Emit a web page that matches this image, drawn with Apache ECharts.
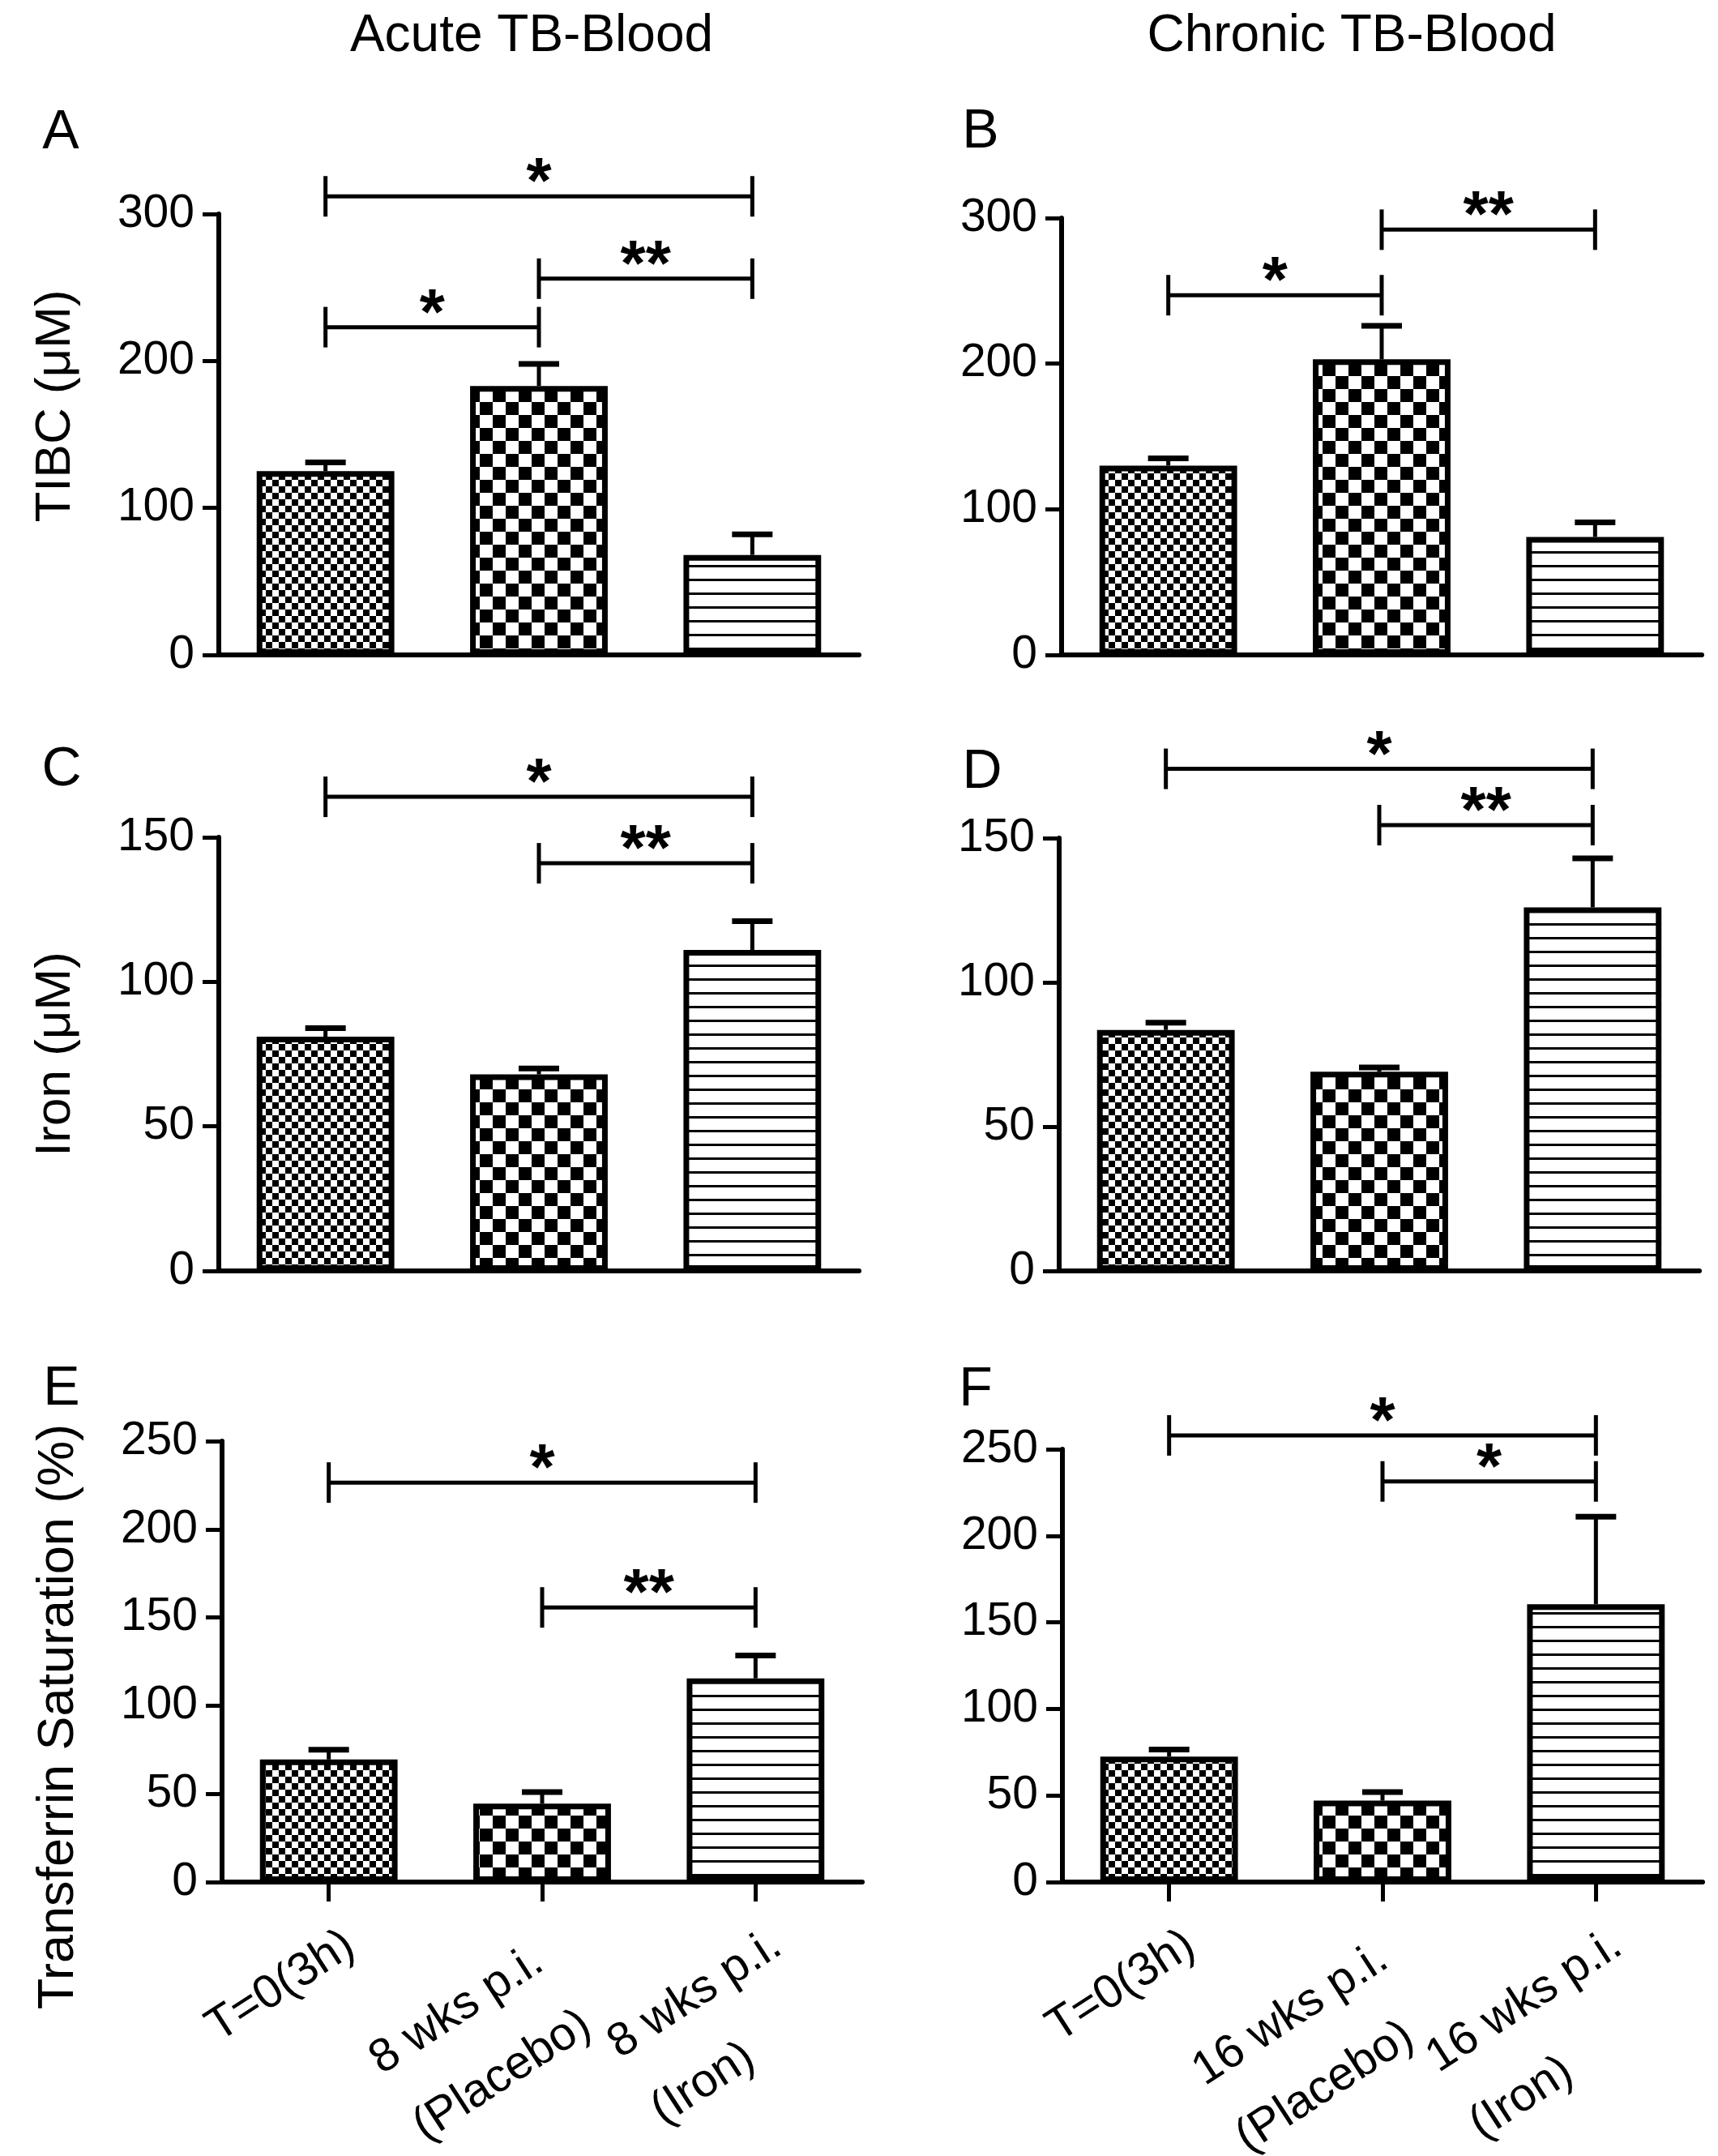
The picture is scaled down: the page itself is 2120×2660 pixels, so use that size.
<!DOCTYPE html>
<html><head><meta charset="utf-8">
<script src="https://cdn.jsdelivr.net/npm/echarts/dist/echarts.min.js"></script>
<style>html,body{margin:0;padding:0;background:#fff}#c{width:2120px;height:2660px}</style>
</head><body><div id="c"></div>
<script>
// ---------- DATA ----------
const categoriesAcute = ['T=0(3h)', '8 wks p.i.\n(Placebo)', '8 wks p.i.\n(Iron)'];
const categoriesChronic = ['T=0(3h)', '16 wks p.i.\n(Placebo)', '16 wks p.i.\n(Iron)'];

const tibcAcute = [125, 183, 68];
const tibcAcuteErr = [131, 198, 82];
const tibcChronic = [130, 203, 81];
const tibcChronicErr = [135, 226, 91];

const ironAcute = [81, 68, 111];
const ironAcuteErr = [84, 70, 121];
const ironChronic = [83.5, 69, 126];
const ironChronicErr = [86, 70.5, 143];

const satAcute = [69.5, 44.5, 115.5];
const satAcuteErr = [75, 51, 128.5];
const satChronic = [72.5, 47, 160.5];
const satChronicErr = [76.5, 52, 211];

// significance brackets: [fromCategory, toCategory, yValue]
const sigA = [[0, 2, 312], [1, 2, 256], [0, 1, 223]];
const sigALabels = ['*', '**', '*'];
const sigB = [[1, 2, 292], [0, 1, 247]];
const sigBLabels = ['**', '*'];
const sigC = [[0, 2, 164], [1, 2, 141]];
const sigCLabels = ['*', '**'];
const sigD = [[0, 2, 174], [1, 2, 154.5]];
const sigDLabels = ['*', '**'];
const sigE = [[0, 2, 226.5], [1, 2, 155.7]];
const sigELabels = ['*', '**'];
const sigF = [[0, 2, 258], [1, 2, 231.4]];
const sigFLabels = ['*', '*'];

const yTicksTIBC = [0, 100, 200, 300];
const yTicksIron = [0, 50, 100, 150];
const yTicksSat = [0, 50, 100, 150, 200, 250];

const columnTitles = ['Acute TB-Blood', 'Chronic TB-Blood'];
const panelLetters = ['A', 'B', 'C', 'D', 'E', 'F'];
const yNames = ['TIBC (\u03bcM)', 'Iron (\u03bcM)', 'Transferrin Saturation (%)'];

// ---------- STYLE ----------
const FONT = "'Liberation Sans', Arial, Helvetica, sans-serif";

function makeChecker(cell) {
  const c = document.createElement('canvas');
  c.width = c.height = cell * 2;
  const g = c.getContext('2d');
  g.fillStyle = '#fff'; g.fillRect(0, 0, cell * 2, cell * 2);
  g.fillStyle = '#000';
  g.fillRect(0, 0, cell, cell);
  g.fillRect(cell, cell, cell, cell);
  return c;
}
function makeLines(period, w) {
  const c = document.createElement('canvas');
  c.width = 8; c.height = period;
  const g = c.getContext('2d');
  g.fillStyle = '#fff'; g.fillRect(0, 0, 8, period);
  g.fillStyle = '#000'; g.fillRect(0, 0, 8, w);
  return c;
}
const patterns = [
  { image: makeChecker(8), repeat: 'repeat' },
  { image: makeChecker(16), repeat: 'repeat' },
  { image: makeLines(17, 3), repeat: 'repeat' }
];

// style: trailing space (px) per rotated x label, to nudge label 2 back along its baseline
const xLabelTrail = [0, 1, 0];

const panels = [
  { cats: categoriesAcute, vals: tibcAcute, errs: tibcAcuteErr, sig: sigA, sigL: sigALabels, ticks: yTicksTIBC,
    grid: { left: 270, top: 264, width: 790, height: 544 }, name: yNames[0], nameSize: 62, namePad: [0, 0, 0, 70], xLabels: false },
  { cats: categoriesChronic, vals: tibcChronic, errs: tibcChronicErr, sig: sigB, sigL: sigBLabels, ticks: yTicksTIBC,
    grid: { left: 1310, top: 269, width: 790, height: 539 }, name: '', xLabels: false },
  { cats: categoriesAcute, vals: ironAcute, errs: ironAcuteErr, sig: sigC, sigL: sigCLabels, ticks: yTicksIron,
    grid: { left: 270, top: 1033, width: 790, height: 535 }, name: yNames[1], nameSize: 62, namePad: [0, 0, 0, 0], xLabels: false },
  { cats: categoriesChronic, vals: ironChronic, errs: ironChronicErr, sig: sigD, sigL: sigDLabels, ticks: yTicksIron,
    grid: { left: 1307, top: 1034, width: 790, height: 534 }, name: '', xLabels: false },
  { cats: categoriesAcute, vals: satAcute, errs: satAcuteErr, sig: sigE, sigL: sigELabels, ticks: yTicksSat,
    grid: { left: 274, top: 1778, width: 790, height: 544 }, name: yNames[2], nameSize: 63, namePad: [0, 136, 0, 0], xLabels: true },
  { cats: categoriesChronic, vals: satChronic, errs: satChronicErr, sig: sigF, sigL: sigFLabels, ticks: yTicksSat,
    grid: { left: 1311, top: 1788, width: 790, height: 534 }, name: '', xLabels: true }
];

const grids = [], xAxes = [], yAxes = [], series = [];
panels.forEach((p, i) => {
  grids.push(Object.assign({ containLabel: false, outerBoundsMode: 'none' }, p.grid));
  xAxes.push({
    type: 'category', gridIndex: i, boundaryGap: true, data: p.cats,
    axisLine: { show: true, lineStyle: { color: '#000', width: 6 } },
    axisTick: { show: p.xLabels, alignWithLabel: true, length: 24, lineStyle: { color: '#000', width: 5 } },
    axisLabel: {
      show: p.xLabels, rotate: 33, interval: 0, margin: 32, align: 'right', verticalAlign: 'top',
      color: '#000', fontFamily: FONT, fontSize: 58, lineHeight: 98,
      formatter: (v, idx) => v.split('\n').map(s => '{l|' + s + '}' + (xLabelTrail[idx] ? '{sp|}' : '')).join('\n'),
      rich: {
        l: { fontSize: 58, lineHeight: 98, fontFamily: FONT, color: '#000', align: 'left' },
        sp: { width: 30, lineHeight: 98, align: 'right' }
      }
    },
    splitLine: { show: false }
  });
  const tmax = p.ticks[p.ticks.length - 1];
  yAxes.push({
    type: 'value', gridIndex: i, min: p.ticks[0], max: tmax, interval: p.ticks[1] - p.ticks[0],
    axisLine: { show: true, lineStyle: { color: '#000', width: 6 } },
    axisTick: { show: true, length: 20, lineStyle: { color: '#000', width: 5 } },
    axisLabel: { fontSize: 57, color: '#000', margin: 30, fontFamily: FONT },
    splitLine: { show: false },
    name: p.name, nameLocation: 'middle', nameGap: 170,
    nameTextStyle: { fontSize: p.nameSize || 62, color: '#000', fontFamily: FONT, padding: p.namePad || 0 }
  });
  series.push({
    type: 'bar', xAxisIndex: i, yAxisIndex: i, barWidth: '64.5%',
    data: p.vals.map((v, k) => ({ value: v, itemStyle: { color: patterns[k] } })),
    itemStyle: { borderColor: '#000', borderWidth: 7 },
    silent: true, animation: false
  });
  series.push({
    type: 'custom', xAxisIndex: i, yAxisIndex: i, animation: false, silent: true, z: 3,
    encode: { x: 0, y: [1, 2] },
    data: p.vals.map((v, k) => [k, v, p.errs[k]]),
    renderItem: (params, api) => {
      const a = api.coord([api.value(0), api.value(1)]);
      const b = api.coord([api.value(0), api.value(2)]);
      return { type: 'group', children: [
        { type: 'line', shape: { x1: a[0], y1: a[1], x2: b[0], y2: b[1] }, style: { stroke: '#000', lineWidth: 5 } },
        { type: 'line', shape: { x1: b[0] - 25, y1: b[1], x2: b[0] + 25, y2: b[1] }, style: { stroke: '#000', lineWidth: 7 } }
      ] };
    }
  });
  const labels = p.sigL;
  series.push({
    type: 'custom', xAxisIndex: i, yAxisIndex: i, animation: false, silent: true, z: 4, clip: false,
    encode: { x: [0, 1], y: 2 },
    data: p.sig,
    renderItem: (params, api) => {
      const a = api.coord([api.value(0), api.value(2)]);
      const b = api.coord([api.value(1), api.value(2)]);
      const y = a[1];
      const ls = { stroke: '#000', lineWidth: 5 };
      return { type: 'group', children: [
        { type: 'line', shape: { x1: a[0], y1: y, x2: b[0], y2: y }, style: ls },
        { type: 'line', shape: { x1: a[0], y1: y - 25, x2: a[0], y2: y + 25 }, style: ls },
        { type: 'line', shape: { x1: b[0], y1: y - 25, x2: b[0], y2: y + 25 }, style: ls },
        { type: 'text', x: (a[0] + b[0]) / 2, y: y - 14,
          style: { text: labels[params.dataIndex], fontSize: 80, fontWeight: 'bold', fontFamily: FONT,
                   fill: '#000', align: 'center', verticalAlign: 'middle' } }
      ] };
    }
  });
});

const letterPos = [[75, 164], [1210, 163], [76, 950], [1212, 953], [76, 1714], [1204, 1715]];
const graphic = [
  { type: 'text', x: 656, y: 45, style: { text: columnTitles[0], fontSize: 64, fontFamily: FONT, fill: '#000', align: 'center', verticalAlign: 'middle' } },
  { type: 'text', x: 1668, y: 45, style: { text: columnTitles[1], fontSize: 64, fontFamily: FONT, fill: '#000', align: 'center', verticalAlign: 'middle' } }
].concat(panelLetters.map((L, i) => ({
  type: 'text', x: letterPos[i][0], y: letterPos[i][1],
  style: { text: L, fontSize: 68, fontFamily: FONT, fill: '#000', align: 'center', verticalAlign: 'middle' }
})));

const chart = echarts.init(document.getElementById('c'), null, { renderer: 'canvas' });
chart.setOption({
  backgroundColor: '#fff',
  animation: false,
  grid: grids, xAxis: xAxes, yAxis: yAxes, series: series, graphic: graphic
});
</script></body></html>
